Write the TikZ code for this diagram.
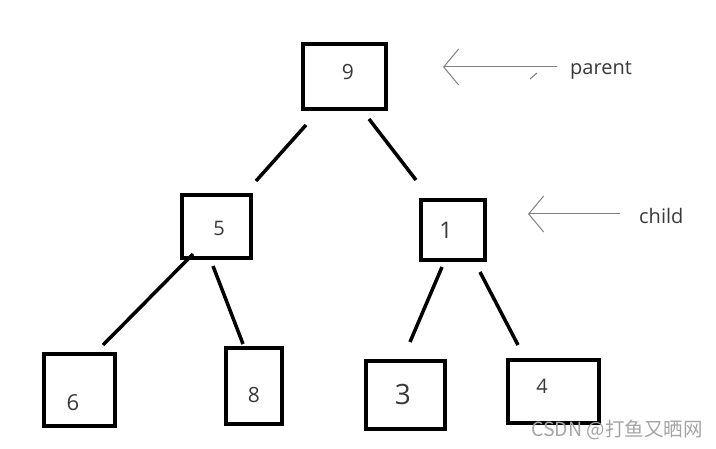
\documentclass[tikz,border=0pt]{standalone}
\usepackage{fontspec}
\setmainfont{Open Sans}
\newfontfamily\cjk{Noto Sans CJK SC}
\usetikzlibrary{arrows.meta, positioning, graphs}
\definecolor{ink}{HTML}{383838}
\definecolor{pen}{HTML}{808080}
\definecolor{mark}{HTML}{A5A5A5}

\begin{document}
\begin{tikzpicture}[x=1pt, y=-1pt,
    box/.style={draw, line width=4pt, inner sep=0pt},
    value/.style={text=ink, anchor=base, inner sep=0pt},
    note/.style={text=ink, anchor=base west, inner sep=0pt, font=\fontsize{20}{24}\selectfont},
    pointer/.style={draw=pen, line width=1pt, -{Straight Barb[length=15pt, width=36pt, line width=1pt]}}]
    \useasboundingbox (0,0) rectangle (716,449);
    % boxes
    \node[box, minimum width=83pt, minimum height=65pt] (root) at (344.5,76.5) {};
    \node[box, minimum width=69pt, minimum height=63pt] (left child) at (216.5,226.5) {};
    \node[box, minimum width=64pt, minimum height=60pt] (right child) at (453,230) {};
    \node[box, minimum width=71pt, minimum height=72pt] (leaf 6) at (79.5,390) {};
    \node[box, minimum width=56pt, minimum height=76pt] (leaf 8) at (254,386) {};
    \node[box, minimum width=79pt, minimum height=68pt] (leaf 3) at (405.5,395) {};
    \node[box, minimum width=91pt, minimum height=63pt] (leaf 4) at (553.5,391.5) {};
    % values
    \node[value, font=\fontsize{21}{25}\selectfont] (value 9) at (348,80) {9};
    \node[value, font=\fontsize{20}{24}\selectfont] (value 5) at (219,235.5) {5};
    \node[value, font=\fontsize{23}{27}\selectfont] (value 1) at (446,239) {1};
    \node[value, font=\fontsize{22}{26}\selectfont] (value 6) at (73,410.5) {6};
    \node[value, font=\fontsize{21}{25}\selectfont] (value 8) at (254,402.5) {8};
    \node[value, font=\fontsize{28}{32}\selectfont] (value 3) at (403,405) {3};
    \node[value, font=\fontsize{20}{24}\selectfont] (value 4) at (542,394) {4};
    % loose ends of the edges
    \coordinate (root left) at (306,125);
    \coordinate (root right) at (369,119);
    \coordinate (left top) at (256,181);
    \coordinate (left low) at (193,254);
    \coordinate (left mid) at (213,266);
    \coordinate (right top) at (416,180);
    \coordinate (right left) at (442,267);
    \coordinate (right right) at (480,272);
    \coordinate (top 6) at (103,345);
    \coordinate (top 8) at (243,344);
    \coordinate (top 3) at (410,342);
    \coordinate (top 4) at (518,345);

    \graph[edges={line width=3.5pt}]{(root left) -- (left top); (root right) -- (right top);
    (left low) -- (top 6); (left mid) -- (top 8);
    (right left) -- (top 3); (right right) -- (top 4)};

    % pointers
    \coordinate (parent tail) at (557,67);
    \coordinate (parent tip) at (443,67);
    \coordinate (child tail) at (620,214);
    \coordinate (child tip) at (528,214);
    \coordinate (tick a) at (530,79);
    \coordinate (tick b) at (537,73);
    \draw[pointer] (parent tail) -- (parent tip);
    \draw[pointer] (child tail) -- (child tip);
    \draw[pen, line width=1pt] (tick a) -- (tick b);
    \node[note] (parent) at (570,75) {parent};
    \node[note] (child) at (639,224) {child};

    \node[anchor=base west, text=mark, inner sep=0pt, font=\cjk\fontsize{19.5}{22}\selectfont] (watermark) at (531,437) {CSDN @打鱼又晒网};
\end{tikzpicture}
\end{document}
